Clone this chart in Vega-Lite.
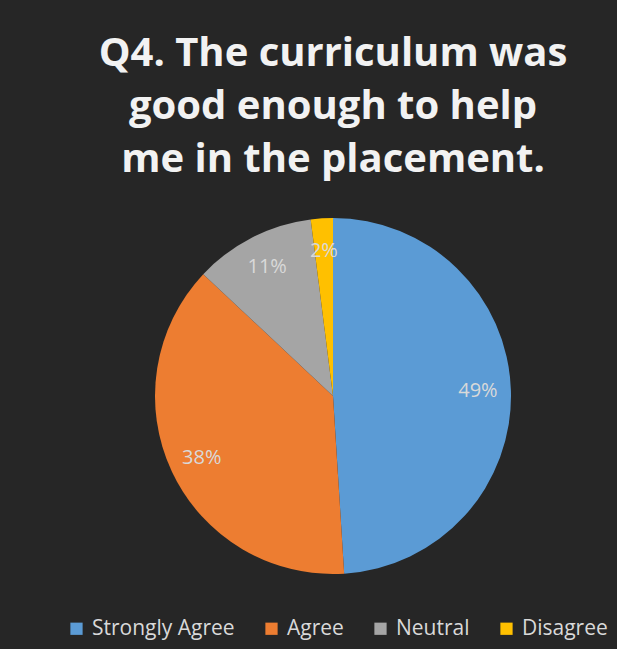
{
  "$schema": "https://vega.github.io/schema/vega-lite/v6.json",
  "autosize": "none",
  "width": 358,
  "height": 356,
  "padding": {"left": 154, "top": 218, "right": 105, "bottom": 75},
  "background": "#262626",
  "title": {
    "text": ["Q4.  The curriculum  was", "good enough to help", "me in  the  placement."],
    "font": "Open Sans",
    "fontSize": 40,
    "fontWeight": "bold",
    "color": "#f2f2f2",
    "lineHeight": 53,
    "anchor": "middle",
    "offset": 38
  },
  "data": {
    "values": [
      {"response": "Strongly Agree", "pct": 49, "order": 1, "label": "49%"},
      {"response": "Agree", "pct": 38, "order": 2, "label": "38%"},
      {"response": "Neutral", "pct": 11, "order": 3, "label": "11%"},
      {"response": "Disagree", "pct": 2, "order": 4, "label": "2%"}
    ]
  },
  "encoding": {
    "theta": {"field": "pct", "type": "quantitative", "stack": true},
    "order": {"field": "order", "type": "quantitative"}
  },
  "layer": [
    {
      "mark": {"type": "arc", "stroke": null},
      "encoding": {
        "color": {
          "field": "response",
          "type": "nominal",
          "scale": {
            "domain": ["Strongly Agree", "Agree", "Neutral", "Disagree"],
            "range": ["#5B9BD5", "#ED7D31", "#A5A5A5", "#FFC000"]
          },
          "legend": {
            "title": null,
            "orient": "none",
            "direction": "horizontal",
            "legendX": -88,
            "legendY": 400,
            "symbolType": "square",
            "symbolSize": 150,
            "symbolStrokeWidth": 0,
            "labelFont": "Open Sans",
            "labelFontSize": 21,
            "labelColor": "#d9d9d9",
            "labelOffset": 5,
            "columnPadding": 26,
            "labelLimit": 300
          }
        }
      }
    },
    {
      "mark": {"type": "text", "radius": 145, "font": "Open Sans", "fontSize": 20, "color": "#d9d9d9"},
      "encoding": {
        "text": {"field": "label", "type": "nominal"}
      }
    }
  ]
}
